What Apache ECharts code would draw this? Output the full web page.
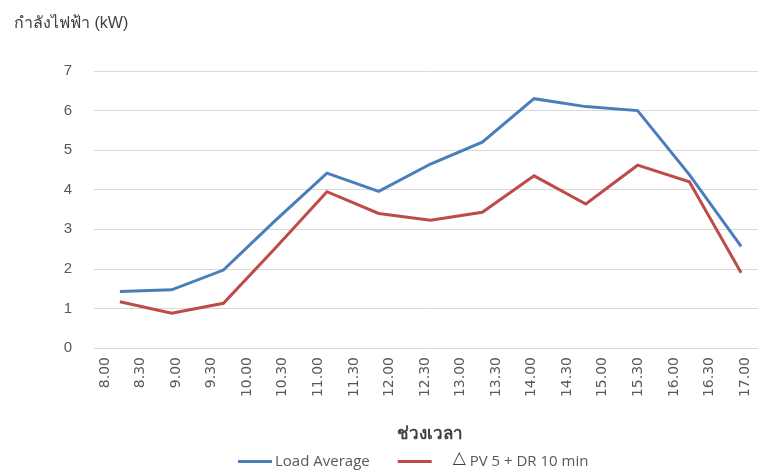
<!DOCTYPE html>
<html>
<head>
<meta charset="utf-8">
<script src="https://cdn.jsdelivr.net/npm/echarts@6/dist/echarts.min.js"></script>
<style>
  html, body { margin: 0; padding: 0; background: #fff; overflow: hidden; }
  /* the plot area runs slightly past the right edge of the window */
  #chart { width: 767px; height: 474px; }
</style>
</head>
<body>
<div id="chart"></div>
<script>
// Time-of-day labels along the bottom axis
const timeLabels = ['8.00', '8.30', '9.00', '9.30', '10.00', '10.30', '11.00', '11.30', '12.00',
  '12.30', '13.00', '13.30', '14.00', '14.30', '15.00', '15.30', '16.00', '16.30', '17.00'];

// Sample slots for the measured series (13 readings across the day)
const sampleSlots = ['1', '2', '3', '4', '5', '6', '7', '8', '9', '10', '11', '12', '13'];

// Power readings, kW
const loadAverage = [1.43, 1.47, 1.97, 3.22, 4.42, 3.96, 4.65, 5.20, 6.30, 6.10, 6.00, 4.38, 2.57];
const pvDr = [1.17, 0.88, 1.13, 2.52, 3.95, 3.40, 3.23, 3.43, 4.35, 3.64, 4.62, 4.20, 1.90];

const seriesNames = ['Load Average', '△ PV 5 + DR 10 min'];
const yTicks = { min: 0, max: 7, interval: 1 };

const textGray = '#595959';
const baseFont = '"Liberation Sans", Arial, sans-serif';

const chart = echarts.init(document.getElementById('chart'), null, { renderer: 'canvas' });

chart.setOption({
  animation: false,
  backgroundColor: '#ffffff',
  title: {
    text: 'กำลังไฟฟ้า (kW)',
    left: 9,
    top: 11,
    textStyle: { fontSize: 16, fontWeight: 'normal', color: '#404040', fontFamily: baseFont }
  },
  grid: [
    // grid for the time labels
    { left: 105, top: 71, width: 640, height: 277 },
    // grid for the plotted lines and horizontal gridlines
    { left: 94, top: 71, width: 673, height: 277 }
  ],
  xAxis: [
    {
      type: 'category',
      gridIndex: 0,
      data: timeLabels,
      boundaryGap: false,
      axisLine: { show: false },
      axisTick: { show: false },
      splitLine: { show: false },
      axisLabel: {
        rotate: 90,
        interval: 0,
        margin: 9,
        fontSize: 14,
        color: textGray,
        fontFamily: '"DejaVu Sans", sans-serif'
      },
      name: 'ช่วงเวลา',
      nameLocation: 'middle',
      nameGap: 78,
      nameTextStyle: { fontSize: 17, fontWeight: 'bold', color: '#404040', fontFamily: baseFont, padding: [0, 0, 0, 10] }
    },
    {
      type: 'category',
      gridIndex: 1,
      data: sampleSlots,
      boundaryGap: true,
      show: false
    }
  ],
  yAxis: [
    {
      type: 'value',
      gridIndex: 0,
      min: yTicks.min, max: yTicks.max, interval: yTicks.interval,
      show: false
    },
    {
      type: 'value',
      gridIndex: 1,
      min: yTicks.min, max: yTicks.max, interval: yTicks.interval,
      axisLine: { show: false },
      axisTick: { show: false },
      axisLabel: { margin: 22, fontSize: 15, color: textGray, fontFamily: baseFont },
      splitLine: { lineStyle: { color: '#d9d9d9', width: 1 } }
    }
  ],
  legend: {
    left: 233,
    top: 445,
    itemWidth: 34,
    itemHeight: 3,
    itemGap: 28,
    icon: 'rect',
    textStyle: {
      fontSize: 15,
      color: textGray,
      fontFamily: '"Open Sans", sans-serif',
      padding: [0, 0, 0, -2],
      rich: {
        tri: { fontSize: 17, color: '#404040', padding: [0, 0, 6, 18], fontFamily: '"DejaVu Sans", sans-serif' },
        txt: { fontSize: 15, color: textGray, fontFamily: '"Open Sans", sans-serif' }
      }
    },
    formatter: function (name) {
      if (name.charAt(0) === '△') {
        return '{tri|△} {txt|' + name.slice(2) + '}';
      }
      return name;
    },
    data: seriesNames
  },
  series: [
    {
      name: seriesNames[0],
      type: 'line',
      xAxisIndex: 1,
      yAxisIndex: 1,
      data: loadAverage,
      showSymbol: false,
      symbol: 'none',
      color: '#4a7ebb',
      lineStyle: { width: 3, color: '#4a7ebb', join: 'miter' }
    },
    {
      name: seriesNames[1],
      type: 'line',
      xAxisIndex: 1,
      yAxisIndex: 1,
      data: pvDr,
      showSymbol: false,
      symbol: 'none',
      color: '#be4b48',
      lineStyle: { width: 3, color: '#be4b48', join: 'miter' }
    }
  ]
});
</script>
</body>
</html>
